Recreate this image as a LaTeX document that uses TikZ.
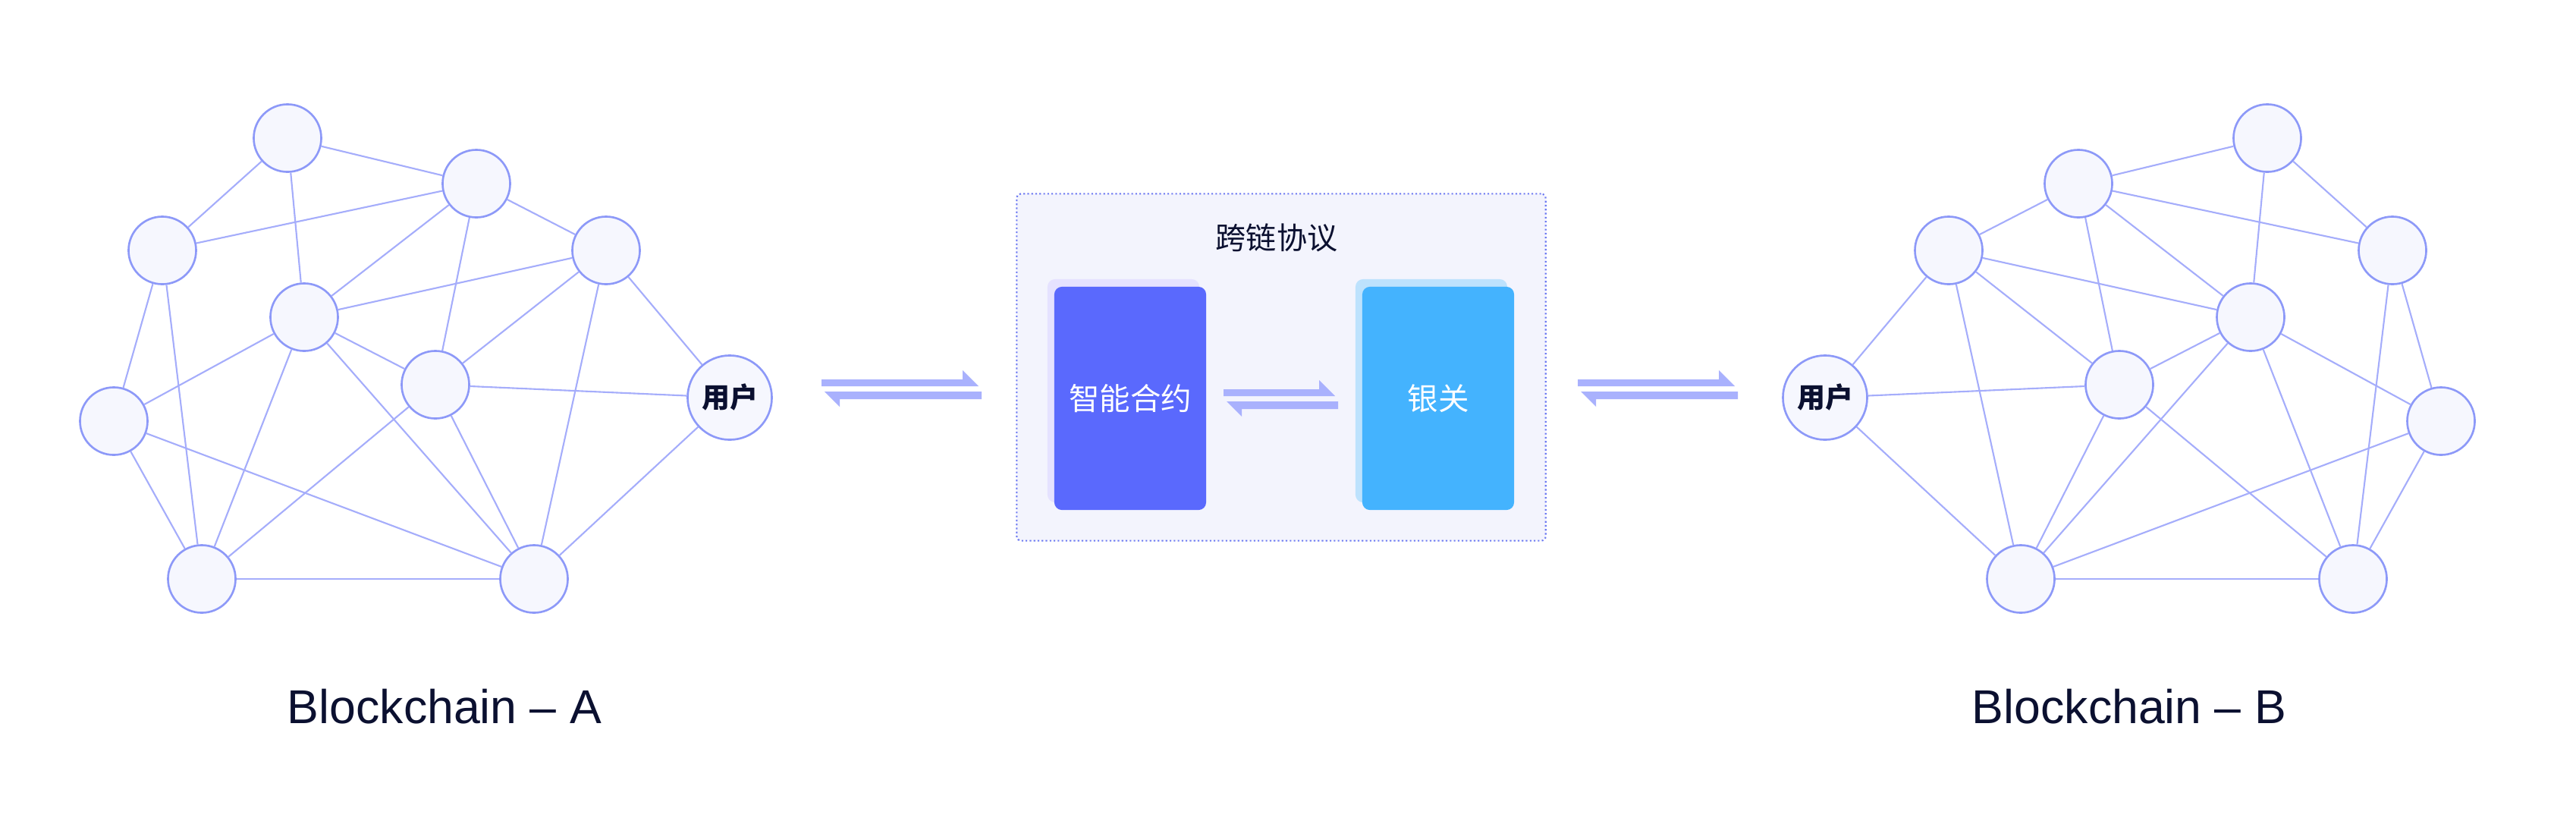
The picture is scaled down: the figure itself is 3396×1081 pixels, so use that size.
\documentclass[tikz,border=0pt]{standalone}
\usepackage{fontspec}
\setmainfont{Liberation Sans}
\newfontfamily\cjk{Noto Sans CJK SC}
\usepackage{tikz}
\usetikzlibrary{positioning}

\definecolor{peerfill}{HTML}{F6F7FE}
\definecolor{peerline}{HTML}{8D99F8}
\definecolor{linkcol}{HTML}{A5ADFB}
\definecolor{arrowcol}{HTML}{A9B1FD}
\definecolor{boxfill}{HTML}{F3F4FD}
\definecolor{boxline}{HTML}{6D7AF2}
\definecolor{contract}{HTML}{5A69FD}
\definecolor{contractshade}{HTML}{E5E2FF}
\definecolor{gateway}{HTML}{44B3FE}
\definecolor{gatewayshade}{HTML}{BDE2FD}
\definecolor{ink}{HTML}{0B1030}

% pair of half arrows: left x, right x, top of upper bar
\newcommand{\swaparrows}[3]{%
  \fill[arrowcol] (#1,#3) -- ({#2-21},#3) -- ({#2-21},{#3-12}) -- (#2,{#3+9}) -- (#1,{#3+9}) -- cycle;
  \fill[arrowcol] ({#2+4},{#3+16}) -- ({#1+4},{#3+16}) -- ({#1+24},{#3+36}) -- ({#1+24},{#3+26}) -- ({#2+4},{#3+26}) -- cycle;
}

% peers of one chain (the other chain is its mirror image)
\def\peerlist{1/379/182, 2/628/242, 3/214/330, 4/799/330, 5/401/418, 6/574/507, 8/150/555, 9/266/763, 10/704/763}
\def\linklist{1/2, 1/3, 1/5, 2/3, 2/4, 2/5, 2/6, 4/5, 4/6, 4/7, 4/10, 3/8, 3/9, 5/8, 5/6, 5/9, 5/10, 6/7, 6/9, 6/10, 7/10, 8/9, 8/10, 9/10}

\begin{document}
\begin{tikzpicture}[
  x=0.01cm, y=-0.01cm,
  every node/.style={font=\cjk},
  peer/.style={circle, draw=peerline, fill=peerfill, line width=0.75pt, minimum size=0.89cm, inner sep=0pt},
  user/.style={peer, minimum size=1.11cm, text=ink, font=\cjk\bfseries\fontsize{10.5}{12}\selectfont},
  link/.style={draw=linkcol, line width=0.6pt},
  chainlabel/.style={text=ink, font=\fontsize{17.8}{20}\selectfont},
  card/.style={rounded corners=0.1cm, minimum width=2cm, minimum height=2.94cm, inner sep=0pt, text=white, font=\cjk\fontsize{11.5}{13}\selectfont},
  shade/.style={rounded corners=0.1cm, minimum width=2cm, minimum height=2.94cm, inner sep=0pt}
]
\fill[white] (0,0) rectangle (3396,1081);
\useasboundingbox (0,0) rectangle (3396,1081);

% Blockchain A
\foreach \n/\x/\y in \peerlist {
  \node[peer] (a\n) at (\x,\y) {};
}
\node[user] (a7) at (962,524) {用户};
% Blockchain B
\foreach \n/\x/\y in \peerlist {
  \node[peer] (b\n) at ({3368-\x},\y) {};
}
\node[user] (b7) at (2406,524) {用户};

% Links
\foreach \i/\j in \linklist {
  \draw[link] (a\i) -- (a\j);
  \draw[link] (b\i) -- (b\j);
}

\node[chainlabel] (labelA) at (586,931) {Blockchain – A};
\node[chainlabel] (labelB) at (2807,931) {Blockchain – B};

% Cross-chain protocol
\node[draw=boxline, fill=boxfill, line width=0.6pt, dash pattern=on 0.6pt off 0.9pt,
      rounded corners=0.06cm, minimum width=6.97cm, minimum height=4.57cm] (protocol) at (1689,484) {};
\node[text=ink, font=\cjk\fontsize{11.4}{13}\selectfont] (title) at (1683,313) {跨链协议};

\node[shade, fill=contractshade] (contractshade) at (1481,515) {};
\node[card, fill=contract] (contract) at (1490,525) {智能合约};
\node[shade, fill=gatewayshade] (gatewayshade) at (1887,515) {};
\node[card, fill=gateway] (gateway) at (1896,525) {银关};

% Exchange arrows
\swaparrows{1083}{1290}{500}
\swaparrows{1613}{1760}{513}
\swaparrows{2080}{2287}{500}

\end{tikzpicture}
\end{document}
